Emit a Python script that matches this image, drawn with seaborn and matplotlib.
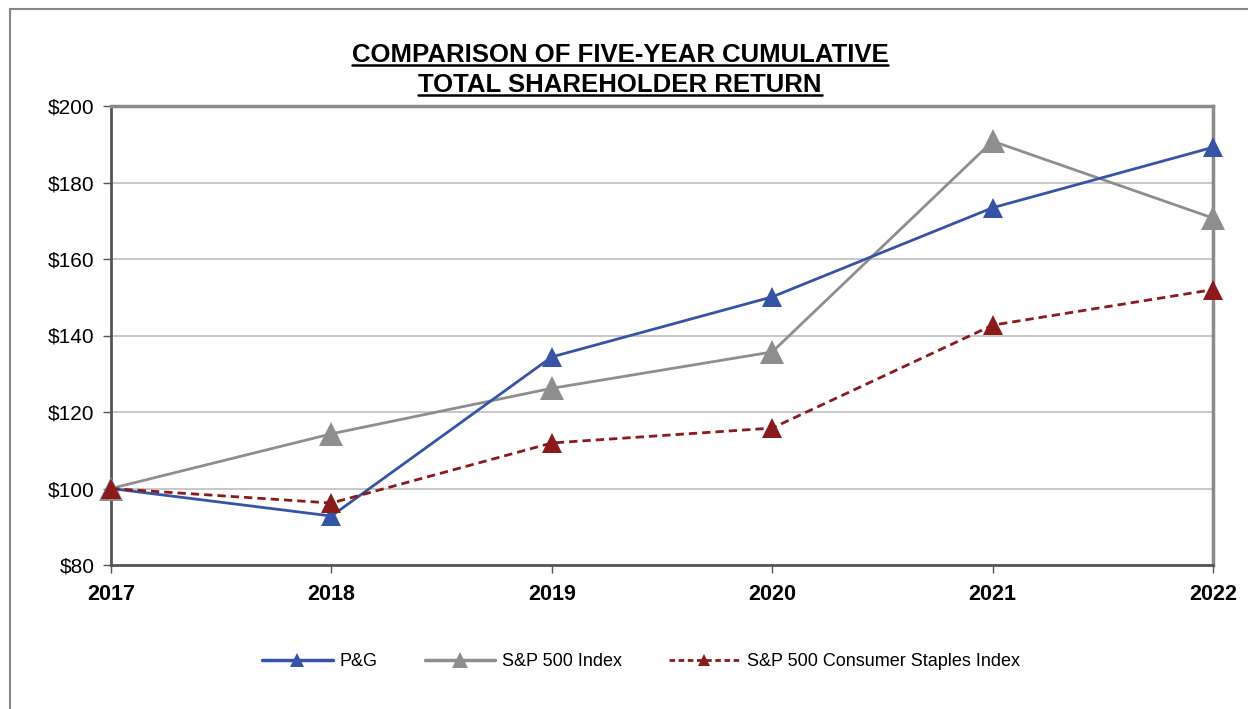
import pandas as pd
import matplotlib
matplotlib.use('Agg')
import matplotlib.pyplot as plt
import seaborn as sns
from matplotlib.lines import Line2D
from matplotlib.patches import Rectangle
from matplotlib.ticker import FuncFormatter

# Data
years = [2017, 2018, 2019, 2020, 2021, 2022]
pg = [100, 92.8, 134.4, 150.1, 173.4, 189.2]
sp500 = [100, 114.3, 126.2, 135.7, 190.8, 170.7]
staples = [100, 96.2, 111.9, 115.8, 142.7, 152.0]
series_names = ['P&G', 'S&P 500 Index', 'S&P 500 Consumer Staples Index']

df = pd.DataFrame({'year': years * 3,
                   'value': pg + sp500 + staples,
                   'series': [series_names[0]] * 6 + [series_names[1]] * 6 + [series_names[2]] * 6})

sns.set_style("white")
plt.rcParams['font.family'] = ['Liberation Sans', 'DejaVu Sans']
plt.rcParams['text.color'] = 'black'
plt.rcParams['xtick.color'] = 'black'
plt.rcParams['ytick.color'] = 'black'

blue = '#3554A5'
gray = '#8E8E8E'
red = '#8B1A1A'

fig = plt.figure(figsize=(12.48, 7.09), dpi=100)
ax = fig.add_axes([111 / 1248, 1 - 565 / 709, (1213 - 111) / 1248, (565 - 106) / 709])

styles = [
    dict(color=blue, linewidth=2, marker='^', markersize=15, zorder=4),
    dict(color=gray, linewidth=2, marker='^', markersize=17, zorder=3),
    dict(color=red, linewidth=2, linestyle=(0, (3, 1.8)), marker='^', markersize=15, zorder=5),
]
for name, st in zip(series_names, styles):
    sns.lineplot(data=df[df.series == name], x='year', y='value', ax=ax,
                 markeredgewidth=0, clip_on=False, **st)

ax.set_xlim(2017, 2022)
ax.set_ylim(80, 200)
ax.set_yticks(range(80, 201, 20))
ax.set_xticks(years)
ax.yaxis.set_major_formatter(FuncFormatter(lambda v, p: f'${v:.0f}'))
ax.set_xlabel('')
ax.set_ylabel('')
ax.grid(axis='y', color='#BDBDBD', linewidth=1.2)
ax.set_axisbelow(True)
for s in ['left', 'bottom']:
    ax.spines[s].set_color('#555555')
    ax.spines[s].set_linewidth(2)
for s in ['top', 'right']:
    ax.spines[s].set_color('#8A8A8A')
    ax.spines[s].set_linewidth(2.5)
ax.tick_params(axis='y', labelsize=15, length=6, width=1, color='#555555', direction='out', left=True, pad=6)
ax.tick_params(axis='x', labelsize=15.5, length=6, width=1, color='#555555', direction='out', bottom=True, pad=8)
for t in ax.get_xticklabels():
    t.set_fontweight('bold')
if ax.get_legend():
    ax.get_legend().remove()

# Title with underline
t1 = fig.text(620 / 1248, 1 - 55 / 709, 'COMPARISON OF FIVE-YEAR CUMULATIVE', ha='center', va='center',
              fontsize=18.5, fontweight='bold')
t2 = fig.text(620 / 1248, 1 - 85 / 709, 'TOTAL SHAREHOLDER RETURN', ha='center', va='center',
              fontsize=18.5, fontweight='bold')
fig.canvas.draw()
r = fig.canvas.get_renderer()
for t in (t1, t2):
    bb = t.get_window_extent(r).transformed(fig.transFigure.inverted())
    fig.add_artist(Line2D([bb.x0, bb.x1], [bb.y0 + 0.003, bb.y0 + 0.003], color='black', linewidth=1.8))

# Legend
handles = [
    Line2D([], [], color=blue, linewidth=2.5, marker='^', markersize=10, markeredgewidth=0),
    Line2D([], [], color=gray, linewidth=2.5, marker='^', markersize=11, markeredgewidth=0),
    Line2D([], [], color=red, linewidth=2, linestyle=(0, (2, 1.3)), marker='^', markersize=9, markeredgewidth=0),
]
fig.legend(handles, series_names, loc='center', bbox_to_anchor=(641 / 1248, 1 - 662 / 709), ncol=3,
           frameon=False, fontsize=13, handlelength=3.9, columnspacing=2.6, handletextpad=0.4)

# Outer frame
fig.add_artist(Rectangle((10 / 1248, -0.1), 1.2, 1 - 9 / 709 + 0.1, transform=fig.transFigure,
                         fill=False, edgecolor='#888888', linewidth=1.5))

fig.savefig('out.png', dpi=100)
